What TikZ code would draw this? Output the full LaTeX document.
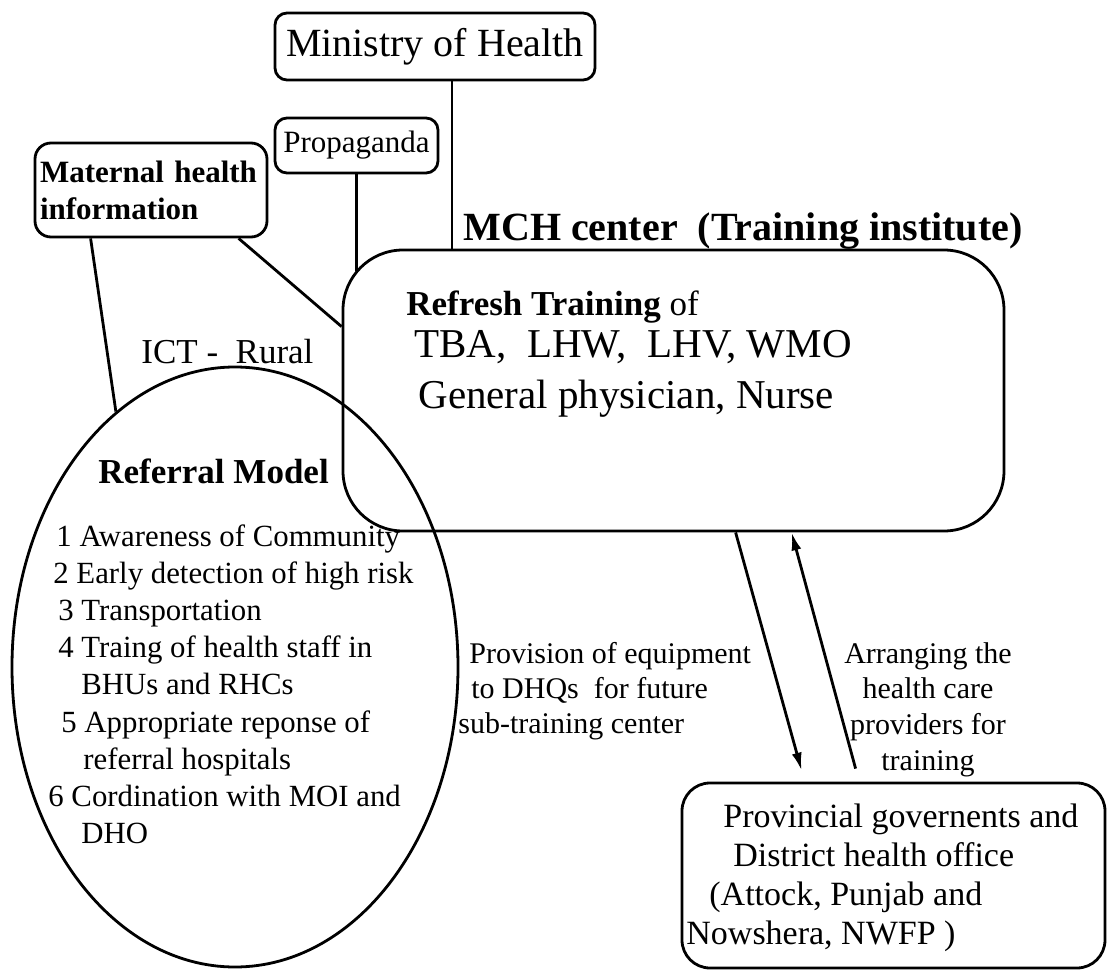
\documentclass[tikz,border=0pt]{standalone}
\usepackage{fontspec}
\setmainfont{Liberation Serif}
\usetikzlibrary{shapes.geometric,calc,arrows.meta}

\begin{document}
\begin{tikzpicture}[x=0.5pt,y=-0.5pt,line width=1.4pt,>={Latex[length=9pt,width=5pt]}]
	\tikzstyle{box}=[draw,rounded corners=6pt,inner sep=0pt]
	\tikzstyle{txt}=[inner sep=0pt,anchor=base west]
	\tikzstyle{blk}=[inner sep=0pt,anchor=north west,align=left]
	\useasboundingbox (0,0) rectangle (1109,974);
	% boxes
	\node[box,minimum width=160pt,minimum height=33.5pt,font=\fontsize{20}{24}\selectfont](moh) at (435,46.5){Ministry of Health};
	\node[box,minimum width=81.5pt,minimum height=27.5pt,font=\fontsize{15.5}{18}\selectfont](prop) at (356.5,145.5){Propaganda};
	\node[box,rounded corners=8pt,text width=111pt,inner xsep=2.5pt,minimum height=47pt,align=left,font=\bfseries\fontsize{15.5}{18.5}\selectfont](mat) at (151,190){Maternal health\\information};
	\node[box,rounded corners=30pt,minimum width=330.5pt,minimum height=140.5pt](train) at (673.5,390.5){};
	\node[draw,ellipse,minimum width=223pt,minimum height=300pt,inner sep=0pt](refm) at (235,667){};
	\node[box,rounded corners=14pt,minimum width=211.5pt,minimum height=92.5pt](prov) at (893.5,875.5){};
	% texts
	\node[txt,font=\bfseries\fontsize{20}{22}\selectfont](mch) at (462,241){MCH center\ \ (Training institute)};
	\node[txt,font=\fontsize{17.5}{20}\selectfont](rt) at (405,315){\textbf{Refresh Training} of};
	\node[txt,font=\fontsize{20.5}{22}\selectfont](tba) at (413,357){TBA,\ \ LHW,\ \ LHV, WMO};
	\node[txt,font=\fontsize{20.5}{22}\selectfont](gp) at (417,408){General physician, Nurse};
	\node[txt,font=\fontsize{17.5}{20}\selectfont](ict) at (140,363){ICT -\ \ Rural};
	\node[txt,font=\bfseries\fontsize{17.5}{20}\selectfont](rmt) at (97,483){Referral Model};
	\node[blk,font=\fontsize{15.4}{18.6}\selectfont](list) at (47,523){%
		\hspace*{4pt}1 Awareness of Community\\
		\hspace*{2.5pt}2 Early detection of high risk\\
		\hspace*{5pt}3 Transportation\\
		\hspace*{5pt}4 Traing of health staff in\\
		\hspace*{16.5pt}BHUs and RHCs\\
		\hspace*{6.5pt}5 Appropriate reponse of\\
		\hspace*{17.5pt}referral hospitals\\
		6 Cordination with MOI and\\
		\hspace*{16.5pt}DHO};
	\node[blk,font=\fontsize{15}{17.5}\selectfont](prv) at (457,641){%
		\hspace*{5.5pt}Provision of equipment\\
		\hspace*{6.5pt}to DHQs\ \ for future\\
		sub-training center};
	\node[blk,anchor=north,align=center,font=\fontsize{15}{17.8}\selectfont](arr) at (928,641){%
		Arranging the\\health care\\providers for\\training};
	\node[blk,font=\fontsize{17}{19.5}\selectfont](pdo) at (685,803){%
		\hspace*{18.5pt}Provincial governents and\\
		\hspace*{23.5pt}District health office\\
		\hspace*{11.5pt}(Attock, Punjab and\\
		Nowshera, NWFP )};
	% connectors
	\draw ($(moh.south)+(17,0)$) coordinate (m0) -- (m0 |- train.north);
	\draw (prop.south) -- ($(prop.south |- train.north)+(0,22)$);
	\draw ($(mat.south west)+(57,0)$) -- (refm.115);
	\draw ($(mat.south west)+(205,0)$) -- ($(train.north west)+(0,78)$);
	\draw[->] ($(train.south west)+(394,0)$) -- ($(prov.north west)+(121,-11)$);
	\draw[->] ($(prov.north west)+(175,-13)$) -- ($(train.south west)+(450,0)$);
\end{tikzpicture}
\end{document}
